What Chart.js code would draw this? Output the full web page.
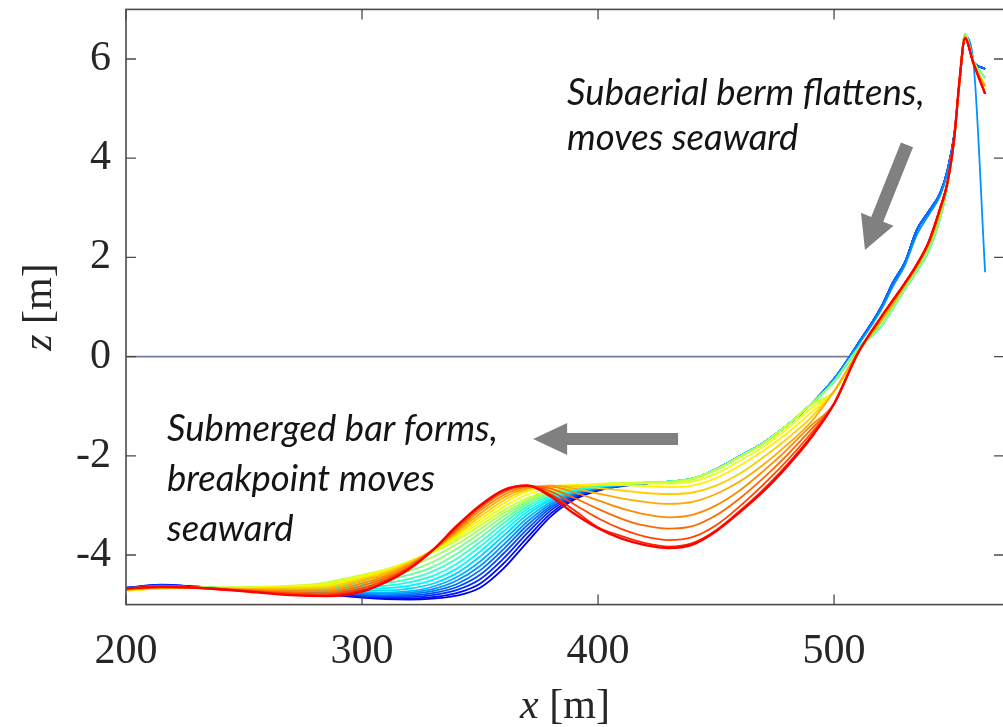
<!DOCTYPE html>
<html>
<head>
<meta charset="utf-8">
<script src="https://cdn.jsdelivr.net/npm/chart.js@4"></script>
<style>
    html, body { margin: 0; padding: 0; background: #fff; overflow: hidden; }
    #wrap { position: absolute; left: 0; top: 0; width: 1010px; height: 727px; }
</style>
</head>
<body>
<div id="wrap"><canvas id="profileChart"></canvas></div>
<script>

/* =========================
   CROSS-SHORE GRID [m]
========================= */

const barX = [200, 215, 230, 250, 270, 285, 300, 310, 320, 330, 340, 350, 360,
              370, 380, 390, 400, 410, 420, 430, 440, 450, 460, 470, 480, 490];

const shoreX = [500, 510, 520, 525, 530, 535, 540, 545, 548, 551, 553, 555.5, 559, 564];

/* =========================
   BED ELEVATION z [m], barX part, first survey -> last survey
========================= */

const z00 = [-4.66,-4.60,-4.64,-4.70,-4.76,-4.80,-4.86,-4.89,-4.90,-4.88,-4.82,-4.66,-4.27,-3.74,-3.22,-2.88,-2.70,-2.61,-2.56,-2.52,-2.46,-2.27,-2.01,-1.74,-1.39,-0.97];
const z01 = [-4.66,-4.61,-4.64,-4.70,-4.75,-4.79,-4.85,-4.87,-4.88,-4.85,-4.77,-4.58,-4.17,-3.65,-3.16,-2.85,-2.69,-2.61,-2.56,-2.52,-2.46,-2.27,-2.01,-1.74,-1.39,-0.97];
const z02 = [-4.67,-4.61,-4.64,-4.70,-4.75,-4.78,-4.83,-4.85,-4.85,-4.81,-4.71,-4.49,-4.07,-3.56,-3.10,-2.82,-2.68,-2.60,-2.56,-2.52,-2.46,-2.27,-2.01,-1.74,-1.39,-0.97];
const z03 = [-4.67,-4.62,-4.65,-4.69,-4.74,-4.77,-4.81,-4.83,-4.82,-4.77,-4.65,-4.40,-3.97,-3.48,-3.05,-2.80,-2.67,-2.60,-2.55,-2.52,-2.46,-2.27,-2.01,-1.74,-1.39,-0.97];
const z04 = [-4.67,-4.62,-4.65,-4.69,-4.73,-4.76,-4.79,-4.81,-4.79,-4.73,-4.59,-4.31,-3.88,-3.40,-3.01,-2.78,-2.66,-2.60,-2.55,-2.52,-2.46,-2.27,-2.01,-1.74,-1.39,-0.97];
const z05 = [-4.68,-4.63,-4.65,-4.69,-4.72,-4.75,-4.77,-4.78,-4.76,-4.69,-4.52,-4.22,-3.79,-3.33,-2.97,-2.76,-2.65,-2.59,-2.55,-2.52,-2.46,-2.27,-2.01,-1.74,-1.39,-0.97];
const z06 = [-4.68,-4.63,-4.65,-4.69,-4.72,-4.74,-4.75,-4.76,-4.73,-4.64,-4.45,-4.13,-3.70,-3.26,-2.93,-2.74,-2.64,-2.59,-2.55,-2.52,-2.46,-2.27,-2.01,-1.74,-1.39,-0.97];
const z07 = [-4.69,-4.64,-4.65,-4.68,-4.71,-4.72,-4.72,-4.72,-4.68,-4.58,-4.37,-4.03,-3.61,-3.19,-2.89,-2.72,-2.63,-2.58,-2.55,-2.52,-2.46,-2.27,-2.01,-1.74,-1.39,-0.97];
const z08 = [-4.69,-4.64,-4.65,-4.68,-4.70,-4.70,-4.68,-4.67,-4.62,-4.50,-4.28,-3.93,-3.52,-3.13,-2.86,-2.70,-2.62,-2.58,-2.54,-2.52,-2.46,-2.27,-2.01,-1.74,-1.39,-0.97];
const z09 = [-4.70,-4.65,-4.65,-4.68,-4.69,-4.68,-4.64,-4.62,-4.55,-4.42,-4.18,-3.83,-3.44,-3.07,-2.83,-2.68,-2.61,-2.57,-2.54,-2.52,-2.46,-2.28,-2.02,-1.74,-1.39,-0.97];
const z10 = [-4.70,-4.65,-4.66,-4.67,-4.68,-4.66,-4.59,-4.56,-4.48,-4.33,-4.08,-3.74,-3.36,-3.02,-2.80,-2.67,-2.60,-2.57,-2.54,-2.52,-2.46,-2.28,-2.02,-1.75,-1.39,-0.97];
const z11 = [-4.71,-4.66,-4.66,-4.67,-4.66,-4.63,-4.54,-4.50,-4.40,-4.24,-3.98,-3.65,-3.29,-2.97,-2.77,-2.65,-2.59,-2.56,-2.54,-2.52,-2.46,-2.28,-2.02,-1.75,-1.39,-0.97];
const z12 = [-4.71,-4.66,-4.66,-4.66,-4.64,-4.60,-4.49,-4.43,-4.32,-4.14,-3.88,-3.56,-3.22,-2.93,-2.75,-2.64,-2.58,-2.56,-2.54,-2.52,-2.46,-2.28,-2.02,-1.75,-1.39,-0.97];
const z13 = [-4.72,-4.67,-4.66,-4.66,-4.63,-4.57,-4.44,-4.36,-4.23,-4.04,-3.79,-3.48,-3.16,-2.89,-2.72,-2.63,-2.57,-2.55,-2.54,-2.53,-2.47,-2.28,-2.02,-1.75,-1.39,-0.97];
const z14 = [-4.72,-4.67,-4.66,-4.65,-4.62,-4.55,-4.40,-4.29,-4.14,-3.95,-3.71,-3.41,-3.10,-2.85,-2.70,-2.62,-2.57,-2.55,-2.54,-2.53,-2.47,-2.28,-2.02,-1.75,-1.39,-0.98];
const z15 = [-4.72,-4.67,-4.66,-4.66,-4.63,-4.58,-4.42,-4.30,-4.13,-3.92,-3.66,-3.35,-3.03,-2.78,-2.65,-2.60,-2.57,-2.56,-2.56,-2.56,-2.52,-2.36,-2.10,-1.82,-1.46,-1.05];
const z16 = [-4.71,-4.67,-4.66,-4.67,-4.65,-4.62,-4.45,-4.32,-4.14,-3.91,-3.62,-3.29,-2.96,-2.72,-2.62,-2.59,-2.58,-2.59,-2.61,-2.63,-2.60,-2.45,-2.20,-1.90,-1.55,-1.14];
const z17 = [-4.71,-4.66,-4.66,-4.68,-4.67,-4.65,-4.48,-4.35,-4.16,-3.90,-3.58,-3.23,-2.90,-2.68,-2.60,-2.61,-2.65,-2.70,-2.75,-2.77,-2.74,-2.60,-2.36,-2.03,-1.66,-1.24];
const z18 = [-4.70,-4.66,-4.66,-4.69,-4.70,-4.69,-4.52,-4.38,-4.18,-3.90,-3.54,-3.17,-2.84,-2.65,-2.60,-2.66,-2.76,-2.86,-2.93,-2.97,-2.93,-2.77,-2.52,-2.18,-1.78,-1.33];
const z19 = [-4.70,-4.65,-4.66,-4.70,-4.73,-4.73,-4.57,-4.42,-4.20,-3.90,-3.51,-3.11,-2.79,-2.63,-2.62,-2.74,-2.90,-3.06,-3.18,-3.24,-3.19,-3.00,-2.70,-2.31,-1.88,-1.40];
const z20 = [-4.69,-4.65,-4.66,-4.71,-4.76,-4.77,-4.62,-4.46,-4.23,-3.90,-3.48,-3.06,-2.74,-2.61,-2.66,-2.85,-3.07,-3.27,-3.41,-3.47,-3.42,-3.20,-2.86,-2.45,-1.99,-1.48];
const z21 = [-4.68,-4.64,-4.66,-4.72,-4.78,-4.80,-4.67,-4.50,-4.25,-3.90,-3.45,-3.03,-2.71,-2.60,-2.72,-2.98,-3.26,-3.48,-3.63,-3.70,-3.64,-3.40,-3.02,-2.58,-2.10,-1.56];
const z22 = [-4.68,-4.64,-4.66,-4.73,-4.80,-4.82,-4.71,-4.53,-4.27,-3.90,-3.43,-3.01,-2.69,-2.60,-2.78,-3.10,-3.44,-3.62,-3.76,-3.83,-3.76,-3.50,-3.11,-2.68,-2.18,-1.62];
const z23 = [-4.67,-4.64,-4.66,-4.73,-4.81,-4.83,-4.74,-4.55,-4.28,-3.90,-3.42,-3.00,-2.69,-2.60,-2.82,-3.17,-3.46,-3.67,-3.80,-3.86,-3.79,-3.52,-3.14,-2.72,-2.22,-1.65];

const barProfiles = [z00, z01, z02, z03, z04, z05, z06, z07, z08, z09, z10, z11,
                     z12, z13, z14, z15, z16, z17, z18, z19, z20, z21, z22, z23];

/* =========================
   BEACH FACE + BERM, shoreX part
========================= */

const shoreBlue   = [-0.45, 0.25, 1.00, 1.50, 1.90, 2.55, 2.92, 3.30, 3.75, 4.50, 5.45, 6.42, 5.95, 5.80];
const shoreDrop   = [-0.45, 0.22, 0.95, 1.42, 1.84, 2.45, 2.85, 3.25, 3.70, 4.48, 5.45, 6.45, 5.95, 1.70];
const shoreCyan   = [-0.50, 0.15, 0.62, 0.98, 1.36, 1.72, 2.12, 2.80, 3.45, 4.40, 5.45, 6.50, 5.96, 5.62];
const shoreYellow = [-0.70, 0.08, 0.72, 1.06, 1.44, 1.80, 2.24, 2.92, 3.48, 4.44, 5.48, 6.46, 5.94, 5.45];
const shoreRed    = [-0.95, 0.06, 0.80, 1.14, 1.48, 1.85, 2.30, 3.00, 3.50, 4.45, 5.50, 6.42, 5.92, 5.30];

const shoreOfProfile = [shoreBlue, shoreBlue, shoreBlue, shoreBlue, shoreBlue, shoreDrop,
                        shoreCyan, shoreCyan, shoreCyan, shoreCyan, shoreCyan, shoreCyan, shoreCyan,
                        shoreYellow, shoreYellow, shoreYellow, shoreYellow, shoreYellow, shoreYellow,
                        shoreRed, shoreRed, shoreRed, shoreRed, shoreRed];

/* =========================
   MEAN SEA LEVEL + AXIS TICKS
========================= */

const seaX = [200, 507];
const seaZ = [0, 0];

const xTicks = [200, 300, 400, 500];
const zTicks = [-4, -2, 0, 2, 4, 6];

const barNote  = ['Submerged bar forms,', 'breakpoint moves', 'seaward'];
const bermNote = ['Subaerial berm flattens,', 'moves seaward'];

/* =========================
   COLOURS
========================= */

function jet(t){
    const c = v => Math.round(255 * Math.max(0, Math.min(1, v)));
    return 'rgb(' + c(1.5 - Math.abs(4 * t - 3)) + ',' +
                    c(1.5 - Math.abs(4 * t - 2)) + ',' +
                    c(1.5 - Math.abs(4 * t - 1)) + ')';
}

/* =========================
   DATASETS
========================= */

const datasets = [];

datasets.push({
    data: seaX.map((x, k) => ({ x: x, y: seaZ[k] })),
    borderColor: '#6e7ea2',
    borderWidth: 1.6,
    pointRadius: 0,
    order: 100
});

const lastIdx = barProfiles.length - 1;

barProfiles.forEach((bar, i) => {

    const shore = shoreOfProfile[i];

    const pts = barX.map((x, k) => ({ x: x, y: bar[k] }))
        .concat(shoreX.map((x, k) => ({ x: x, y: shore[k] })));

    datasets.push({
        data: pts,
        borderColor: jet(0.1 + 0.775 * i / lastIdx),
        borderWidth: i === lastIdx ? 2.4 : 1.8,
        pointRadius: 0,
        cubicInterpolationMode: 'monotone',
        order: barProfiles.length - i
    });

});

/* =========================
   FRAME, TICKS, NOTES
========================= */

const axisInk = '#4a4a4a';
const serif = '"Liberation Serif", "DejaVu Serif", serif';

function blockArrow(ctx, x0, y0, x1, y1, w, hl, hw){
    const ang = Math.atan2(y1 - y0, x1 - x0);
    const len = Math.hypot(x1 - x0, y1 - y0);
    ctx.save();
    ctx.translate(x0, y0);
    ctx.rotate(ang);
    ctx.beginPath();
    ctx.moveTo(0, -w / 2);
    ctx.lineTo(len - hl, -w / 2);
    ctx.lineTo(len - hl, -hw / 2);
    ctx.lineTo(len, 0);
    ctx.lineTo(len - hl, hw / 2);
    ctx.lineTo(len - hl, w / 2);
    ctx.lineTo(0, w / 2);
    ctx.closePath();
    ctx.fill();
    ctx.restore();
}

const framePlugin = {
    id: 'frame',
    afterDatasetsDraw(chart){
        const { ctx, chartArea: a, scales: { x, y } } = chart;

        ctx.save();
        ctx.strokeStyle = axisInk;
        ctx.lineWidth = 1.6;
        ctx.strokeRect(a.left, a.top, a.right - a.left, a.bottom - a.top);

        ctx.lineWidth = 1.3;
        ctx.beginPath();
        xTicks.forEach(v => {
            const px = x.getPixelForValue(v);
            ctx.moveTo(px, a.bottom); ctx.lineTo(px, a.bottom - 10);
            ctx.moveTo(px, a.top);    ctx.lineTo(px, a.top + 10);
        });
        zTicks.forEach(v => {
            const py = y.getPixelForValue(v);
            ctx.moveTo(a.left, py);  ctx.lineTo(a.left + 10, py);
            ctx.moveTo(a.right, py); ctx.lineTo(a.right - 10, py);
        });
        ctx.stroke();

        // arrows
        ctx.fillStyle = '#808080';
        blockArrow(ctx, x.getPixelForValue(433.9), y.getPixelForValue(-1.66),
                        x.getPixelForValue(372.5), y.getPixelForValue(-1.66), 12, 34, 32);
        blockArrow(ctx, x.getPixelForValue(530.9), y.getPixelForValue(4.27),
                        x.getPixelForValue(513.1), y.getPixelForValue(2.15), 13, 33, 35);

        // notes
        ctx.fillStyle = '#141414';
        ctx.font = 'italic 36.5px Lato, "Open Sans", sans-serif';
        ctx.textAlign = 'left';
        ctx.textBaseline = 'alphabetic';
        const barLines = [-1.70, -2.71, -3.72];
        barNote.forEach((t, k) => ctx.fillText(t, x.getPixelForValue(217.4), y.getPixelForValue(barLines[k])));
        const bermLines = [5.07, 4.16];
        bermNote.forEach((t, k) => ctx.fillText(t, x.getPixelForValue(386.9), y.getPixelForValue(bermLines[k])));

        ctx.restore();
    },
    afterDraw(chart){
        const { ctx, chartArea: a } = chart;
        ctx.save();
        ctx.fillStyle = '#262626';
        ctx.textBaseline = 'alphabetic';
        ctx.textAlign = 'left';

        const drawTitle = (sym, unit, cx, base) => {
            ctx.font = 'italic 42px ' + serif;
            const w1 = ctx.measureText(sym).width;
            ctx.font = '42px ' + serif;
            const w2 = ctx.measureText(unit).width;
            const start = cx - (w1 + w2) / 2;
            ctx.font = 'italic 42px ' + serif;
            ctx.fillText(sym, start, base);
            ctx.font = '42px ' + serif;
            ctx.fillText(unit, start + w1, base);
        };

        drawTitle('x', ' [m]', (a.left + a.right) / 2, 718);

        ctx.translate(51, (a.top + a.bottom) / 2);
        ctx.rotate(-Math.PI / 2);
        drawTitle('z', ' [m]', 0, 0);

        ctx.restore();
    }
};

/* =========================
   CHART
========================= */

new Chart(document.getElementById('profileChart'), {

    type: 'line',

    data: { datasets: datasets },

    options: {

        responsive: true,
        maintainAspectRatio: false,
        animation: false,
        events: [],

        layout: { padding: { top: 9.4, right: 6, left: 0, bottom: 0 } },

        plugins: {
            legend: { display: false },
            tooltip: { enabled: false }
        },

        scales: {

            x: {
                type: 'linear',
                min: 200,
                max: 572,
                afterBuildTicks: s => { s.ticks = xTicks.map(v => ({ value: v })); },
                afterFit: s => {
                    s.height = 122.4;
                    s.paddingLeft = 0; s.paddingRight = 0;
                },
                grid: { display: false, drawTicks: false },
                border: { display: false },
                ticks: {
                    font: { family: serif, size: 42 },
                    color: '#262626',
                    padding: 22,
                    maxRotation: 0,
                    autoSkip: false
                }
            },

            y: {
                type: 'linear',
                min: -5,
                max: 7,
                afterBuildTicks: s => { s.ticks = zTicks.map(v => ({ value: v })); },
                afterFit: s => {
                    s.width = 126;
                    s.paddingTop = 0; s.paddingBottom = 0;
                },
                grid: { display: false, drawTicks: false },
                border: { display: false },
                ticks: {
                    font: { family: serif, size: 42 },
                    color: '#262626',
                    padding: 15,
                    autoSkip: false
                }
            }

        }

    },

    plugins: [framePlugin]

});

</script>
</body>
</html>
